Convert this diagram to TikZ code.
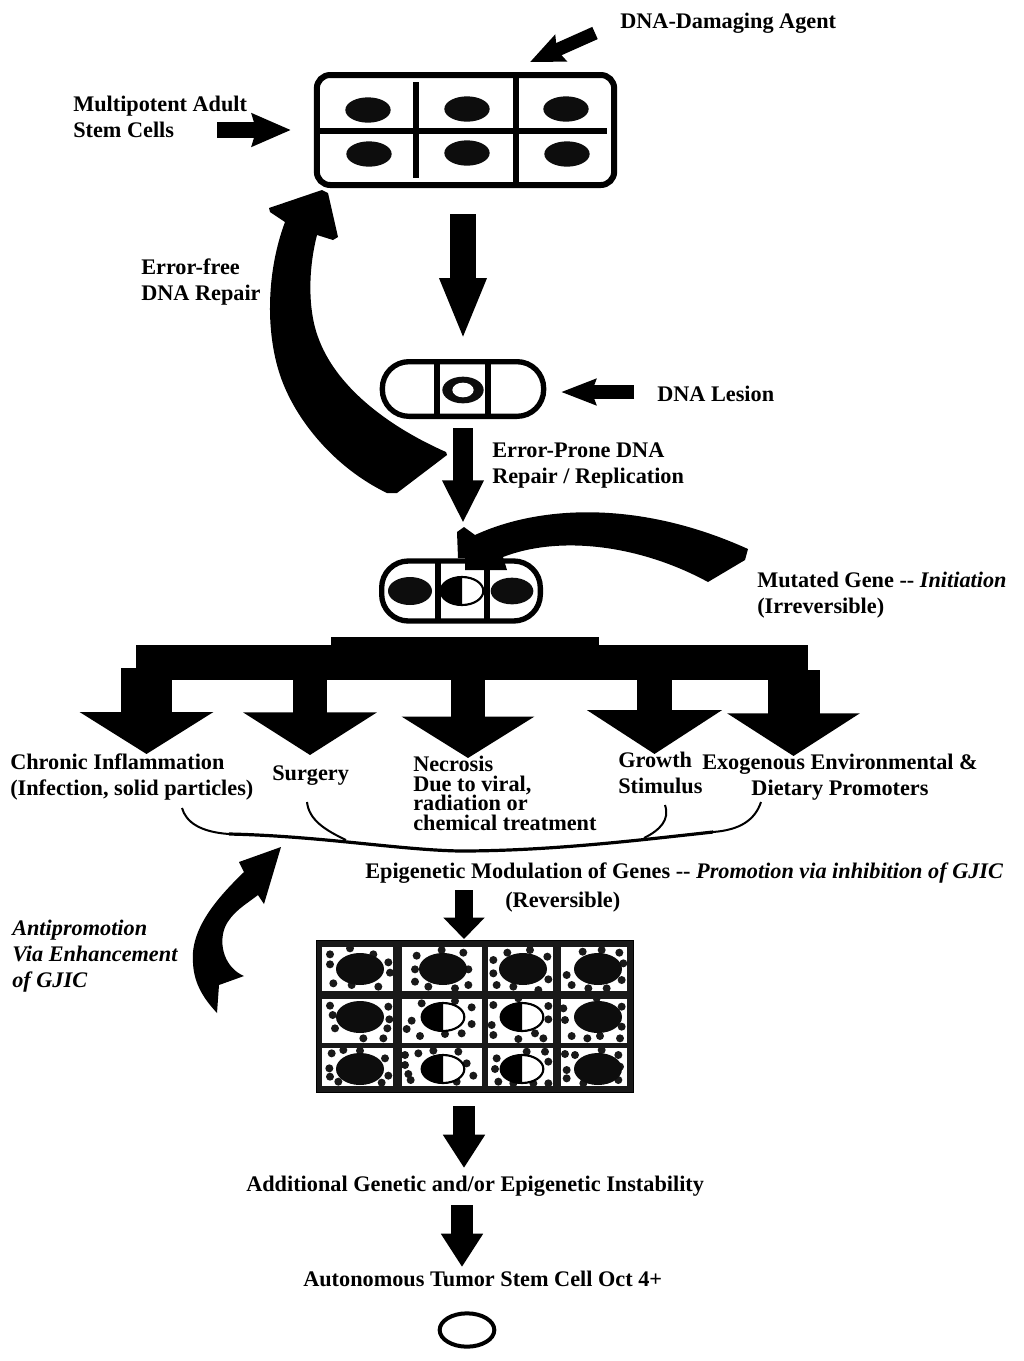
\documentclass[tikz,border=0pt]{standalone}
\usepackage{fontspec}
\setmainfont{Liberation Serif}
\usetikzlibrary{arrows.meta,shapes.geometric}
\tikzset{
  lbl/.style={font=\fontsize{16.7}{19.5}\selectfont\bfseries, anchor=base west, inner sep=0pt, align=left},
  fat/.style n args={3}{line width=#1, -{Triangle[width=#2,length=#3]}},
  dart/.style n args={3}{line width=#1, -{Stealth[width=#2,length=#3,inset=3pt]}},
  cellbox/.style={draw, line width=4pt, rounded corners=#1, inner sep=0pt},
  nucleus/.style={ellipse, fill=black!95, inner sep=0pt, minimum width=34pt, minimum height=19pt},
  wall/.style={line width=4.5pt},
  spot/.style={fill=black!90},
  brace/.style={line width=1.5pt},
}
\newcommand{\halfnucleus}[2]{
  \draw[line width=1.6pt, fill=white] (#1,#2) ellipse [x radius=16pt, y radius=10.5pt];
  \fill (#1,#2) ++(0,-14) arc [start angle=90, end angle=270, x radius=16pt, y radius=10.5pt] -- cycle;
}
\begin{document}
\begin{tikzpicture}[x=0.75pt,y=-0.75pt]
  \useasboundingbox (0,0) rectangle (1024,1361);

  % stem cells
  \node[cellbox=10pt, line width=4.5pt, minimum width=223pt, minimum height=82.5pt] (stem) at (465.5,130) {};
  \draw[wall] (320,131) -- (607,131);
  \draw[wall] (416,82) -- (416,178);
  \draw[wall] (516,75) -- (516,185);
  \node[nucleus] (s1) at (368,110) {};
  \node[nucleus] (s2) at (467,109) {};
  \node[nucleus] (s3) at (566,109) {};
  \node[nucleus] (s4) at (369,154) {};
  \node[nucleus] (s5) at (467,153) {};
  \node[nucleus] (s6) at (567,154) {};

  % lesion
  \node[cellbox=20pt, minimum width=121pt, minimum height=41pt] (lesion) at (463,389) {};
  \draw[wall] (437,362) -- (437,416);
  \draw[wall] (488,362) -- (488,416);
  \node[nucleus, minimum width=31pt, minimum height=20pt] (ring) at (463,390) {};
  \node[ellipse, fill=white, inner sep=0pt, minimum width=16pt, minimum height=11pt] (hole) at (463,390) {};

  % mutated
  \node[cellbox=20pt, minimum width=119pt, minimum height=45pt] (mutated) at (461,591) {};
  \draw[wall] (438,560) -- (438,621);
  \draw[wall] (487,560) -- (487,621);
  \node[nucleus, minimum width=33pt, minimum height=21pt] (m1) at (410,591) {};
  \node[nucleus, minimum width=32pt, minimum height=20pt] (m3) at (512,591) {};
  \halfnucleus{462}{591}

  % straight arrows
  \coordinate (agent) at (595,33);
  \coordinate (agenttip) at (530,62);
  \draw[dart={10pt}{21pt}{25pt}] (agent) -- (agenttip);
  \coordinate (adult) at (217,130);
  \coordinate (adulttip) at (291,130);
  \draw[dart={12pt}{24pt}{29pt}] (adult) -- (adulttip);
  \coordinate (stemout) at (463,214);
  \coordinate (stemtip) at (463,340);
  \draw[fat={19pt}{32pt}{46.5pt}] (stemout) -- (stemtip);
  \coordinate (lesionin) at (634,392);
  \coordinate (lesiontip) at (561,392);
  \draw[dart={10.5pt}{19pt}{26pt}] (lesionin) -- (lesiontip);
  \coordinate (lesionout) at (463,428);
  \coordinate (lesionend) at (463,523);
  \draw[fat={15pt}{29pt}{32pt}] (lesionout) -- (lesionend);

  % curved arrows
  \coordinate (repairend) at (447,455);
  \coordinate (repairtip) at (322,190);
  \fill (269,208) -- (repairtip) -- (328,193) -- (338,237) -- (333,240) -- (317,235)
    .. controls (308,270) and (308,310) .. (318,337) .. controls (335,385) and (385,425) .. (446,452)
    -- (repairend) -- (397,493) -- (387,493)
    .. controls (335,468) and (295,420) .. (280,375) .. controls (265,330) and (267,270) .. (285,222)
    -- (270,212) -- cycle;
  \coordinate (initend) at (748,549);
  \coordinate (inittip) at (464,527);
  \fill (457,532) -- (inittip) -- (475,535) .. controls (540,505) and (640,500) .. (initend)
    -- (745,560) -- (708,582) .. controls (640,545) and (560,535) .. (503,557) -- (507,570)
    -- (465,570) -- (465,558) -- (458,558) -- cycle;
  \coordinate (antitip) at (281,847);
  \fill (antitip) -- (239,862) -- (244,872) .. controls (215,900) and (190,930) .. (193,963)
    .. controls (194,985) and (205,1000) .. (217,1013) -- (219,985) -- (244,976)
    .. controls (225,968) and (218,945) .. (225,927) .. controls (232,912) and (245,905) .. (258,895)
    -- (264,904) -- cycle;

  % promoters
  \fill (331,637) rectangle (599,660);
  \fill (136,645) rectangle (808,680);
  \coordinate (chronic) at (146.5,668);
  \coordinate (chronictip) at (146.5,754);
  \draw[fat={38pt}{99pt}{31.5pt}] (chronic) -- (chronictip);
  \coordinate (surgery) at (310,675);
  \coordinate (surgerytip) at (310,755);
  \draw[fat={25.5pt}{99pt}{32pt}] (surgery) -- (surgerytip);
  \coordinate (necrosis) at (468,675);
  \coordinate (necrosistip) at (468,758);
  \draw[fat={26pt}{98pt}{31pt}] (necrosis) -- (necrosistip);
  \coordinate (growth) at (654.5,675);
  \coordinate (growthtip) at (654.5,754);
  \draw[fat={26pt}{100pt}{33pt}] (growth) -- (growthtip);
  \coordinate (exo) at (793.5,670);
  \coordinate (exotip) at (793.5,756);
  \draw[fat={39pt}{98pt}{32pt}] (exo) -- (exotip);

  % brace
  \coordinate (b1) at (182,808);
  \coordinate (b2) at (307,802);
  \coordinate (b3) at (665,805);
  \coordinate (b4) at (761,802);
  \coordinate (bl) at (229,834);
  \coordinate (bm) at (460,851);
  \coordinate (br) at (713,832);
  \draw[line width=2.4pt] (bl) .. controls (320,836) and (400,850) .. (bm) .. controls (550,851) and (640,840) .. (br);
  \draw[brace] (b1) .. controls (186,822) and (200,832) .. (bl);
  \draw[brace] (b2) .. controls (309,820) and (325,830) .. (346,840);
  \draw[brace] (b3) .. controls (670,820) and (660,830) .. (644,838);
  \draw[brace] (b4) .. controls (755,820) and (740,830) .. (br);
  \coordinate (epi) at (464,890);
  \coordinate (epitip) at (464,939);
  \draw[fat={14pt}{30pt}{16pt}] (epi) -- (epitip);

  % tissue
  \node[draw, fill=black!90, line width=1pt, inner sep=0pt, minimum width=238pt, minimum height=114pt] (tissue) at (475,1016.5) {};
  \foreach \xa/\xb in {322/393,402/482,488/553,561/627}
    \foreach \ya/\yb in {947/991,999/1043,1048/1086}
      \fill[white] (\xa,\ya) rectangle (\xb,\yb);
  \begin{scope}[shift={(300,930)},x=0.25pt,y=-0.25pt]
    \foreach \dx/\dy in {90/73,90/103,100/160,155/165,235/170,265/97,270/128,220/73,150/55,
      350/77,345/118,345/155,425/60,490/68,505/118,505/165,385/170,465/175,
      580/90,622/68,690/60,742/80,745/148,580/130,590/165,640/170,715/180,
      800/135,815/165,848/65,905/60,958/68,865/175,920/175,965/150,970/100,
      90/227,98/255,105/295,265/230,268/268,262/295,190/325,250/325,
      365/220,335/272,320/297,360/318,435/312,485/310,515/282,515/232,465/213,
      580/225,575/285,580/315,655/327,705/310,730/325,745/268,745/228,655/205,
      790/235,795/270,815/318,862/325,900/318,960/325,965/290,965/230,890/205,
      95/370,130/360,180/362,255/385,88/415,90/440,115/455,265/437,245/458,
      315/375,315/405,325/432,332/450,355/370,400/362,475/365,500/400,520/437,470/455,
      590/385,585/417,595/455,640/460,680/365,735/365,745/395,745/460,700/460,
      795/372,825/375,955/375,800/420,800/445,850/460,960/410,955/450,905/360}
      \fill[spot] (\dx,\dy) circle (3pt);
  \end{scope}
  \foreach \nx/\ny/\nn in {360/969/t1,443/969/t2,523/969/t3,598/969/t4,360/1017/t5,598/1017/t6,360/1069/t7,598/1069/t8}
    \node[nucleus, minimum width=36pt, minimum height=24pt] (\nn) at (\nx,\ny) {};
  \halfnucleus{443}{1017}
  \halfnucleus{522}{1017}
  \halfnucleus{443}{1069}
  \halfnucleus{522}{1069}

  \coordinate (tissueout) at (464,1106);
  \coordinate (tissuetip) at (464,1168);
  \draw[fat={16pt}{30pt}{25pt}] (tissueout) -- (tissuetip);
  \coordinate (instout) at (462,1205);
  \coordinate (insttip) at (462,1267);
  \draw[fat={16pt}{30pt}{25pt}] (instout) -- (insttip);
  \node[ellipse, draw, line width=3pt, inner sep=0pt, minimum width=41pt, minimum height=25pt] (tumor) at (467,1330) {};

  % labels
  \node[lbl] (damage) at (620,28) {DNA-Damaging Agent};
  \node[lbl] (multi) at (73,137) {Multipotent Adult\\Stem Cells};
  \node[lbl] (free) at (141,300) {Error-free\\DNA Repair};
  \node[lbl] (lesionl) at (657,401) {DNA Lesion};
  \node[lbl] (prone) at (492,483) {Error-Prone DNA\\Repair / Replication};
  \node[lbl] (mut) at (757,613) {Mutated Gene -{}- \textit{Initiation}\\(Irreversible)};
  \node[lbl] (infl) at (10,795) {Chronic Inflammation\\(Infection, solid particles)};
  \node[lbl] (surg) at (272,780) {Surgery};
  \node[lbl, font=\fontsize{16.7}{14.6}\selectfont\bfseries] (necr) at (413,830) {Necrosis\\Due to viral,\\radiation or\\chemical treatment};
  \node[lbl] (grow) at (618,793) {Growth\\Stimulus};
  \node[lbl, align=center, anchor=base] (envi) at (840,795) {Exogenous Environmental \&\\Dietary Promoters};
  \node[lbl] (modu) at (365,878) {Epigenetic Modulation of Genes -{}- \textit{Promotion via inhibition of GJIC}};
  \node[lbl] (rev) at (505,907) {(Reversible)};
  \node[lbl, font=\fontsize{16.7}{19.5}\selectfont\bfseries\itshape] (anti) at (12,987) {Antipromotion\\Via Enhancement\\of GJIC};
  \node[lbl] (insta) at (246,1191) {Additional Genetic and/or Epigenetic Instability};
  \node[lbl] (auto) at (303,1286) {Autonomous Tumor Stem Cell Oct 4+};
\end{tikzpicture}
\end{document}
